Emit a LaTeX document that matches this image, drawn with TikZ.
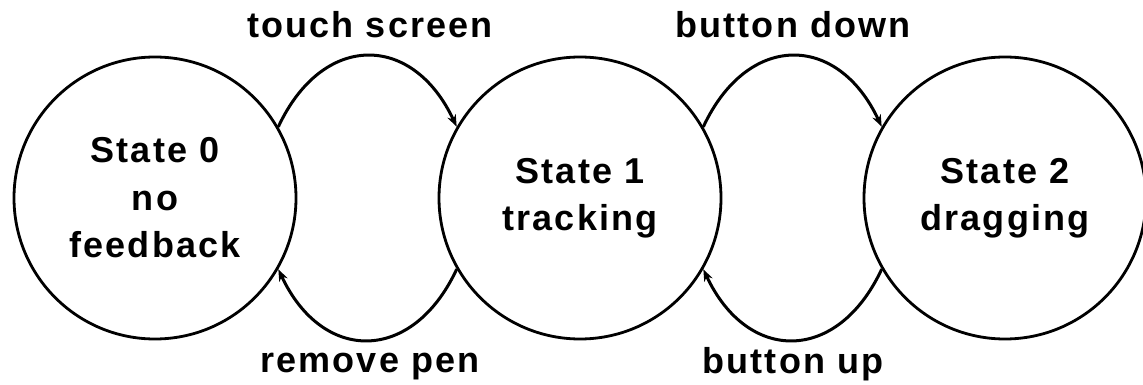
\documentclass[tikz,border=0pt]{standalone}
\usepackage{fontspec}
\setmainfont{Liberation Sans}[LetterSpace=6]
\usetikzlibrary{arrows.meta}
\begin{document}
\begin{tikzpicture}[x=1pt,y=1pt,
  state/.style={circle,draw,line width=2.8pt,minimum size=282pt,inner sep=0pt,align=center,
    font=\bfseries\fontsize{36}{47.5}\selectfont},
  lbl/.style={anchor=base,font=\bfseries\fontsize{36}{40}\selectfont},
  trans/.style={line width=3pt,-{Stealth[length=12pt,width=9pt]}}]
\useasboundingbox (0,0) rectangle (1143,-385);
\fill[white] (0,0) rectangle (1143,-385);
\node[state] (s0) at (155,-198) {State 0\\no\\feedback};
\node[state] (s1) at (580,-198) {State 1\\tracking};
\node[state] (s2) at (1005,-198) {State 2\\dragging};
\draw[trans] (s0.30) to[out=65,in=115,looseness=1.5] (s1.150);
\draw[trans] (s1.210) to[out=-115,in=-65,looseness=1.5] (s0.330);
\draw[trans] (s1.30) to[out=65,in=115,looseness=1.5] (s2.150);
\draw[trans] (s2.210) to[out=-115,in=-65,looseness=1.5] (s1.330);
\node[lbl] (l1) at (370,-38) {touch screen};
\node[lbl] (l2) at (793,-38) {button down};
\node[lbl] (l3) at (370,-372) {remove pen};
\node[lbl] (l4) at (793,-373) {button up};
\end{tikzpicture}
\end{document}
